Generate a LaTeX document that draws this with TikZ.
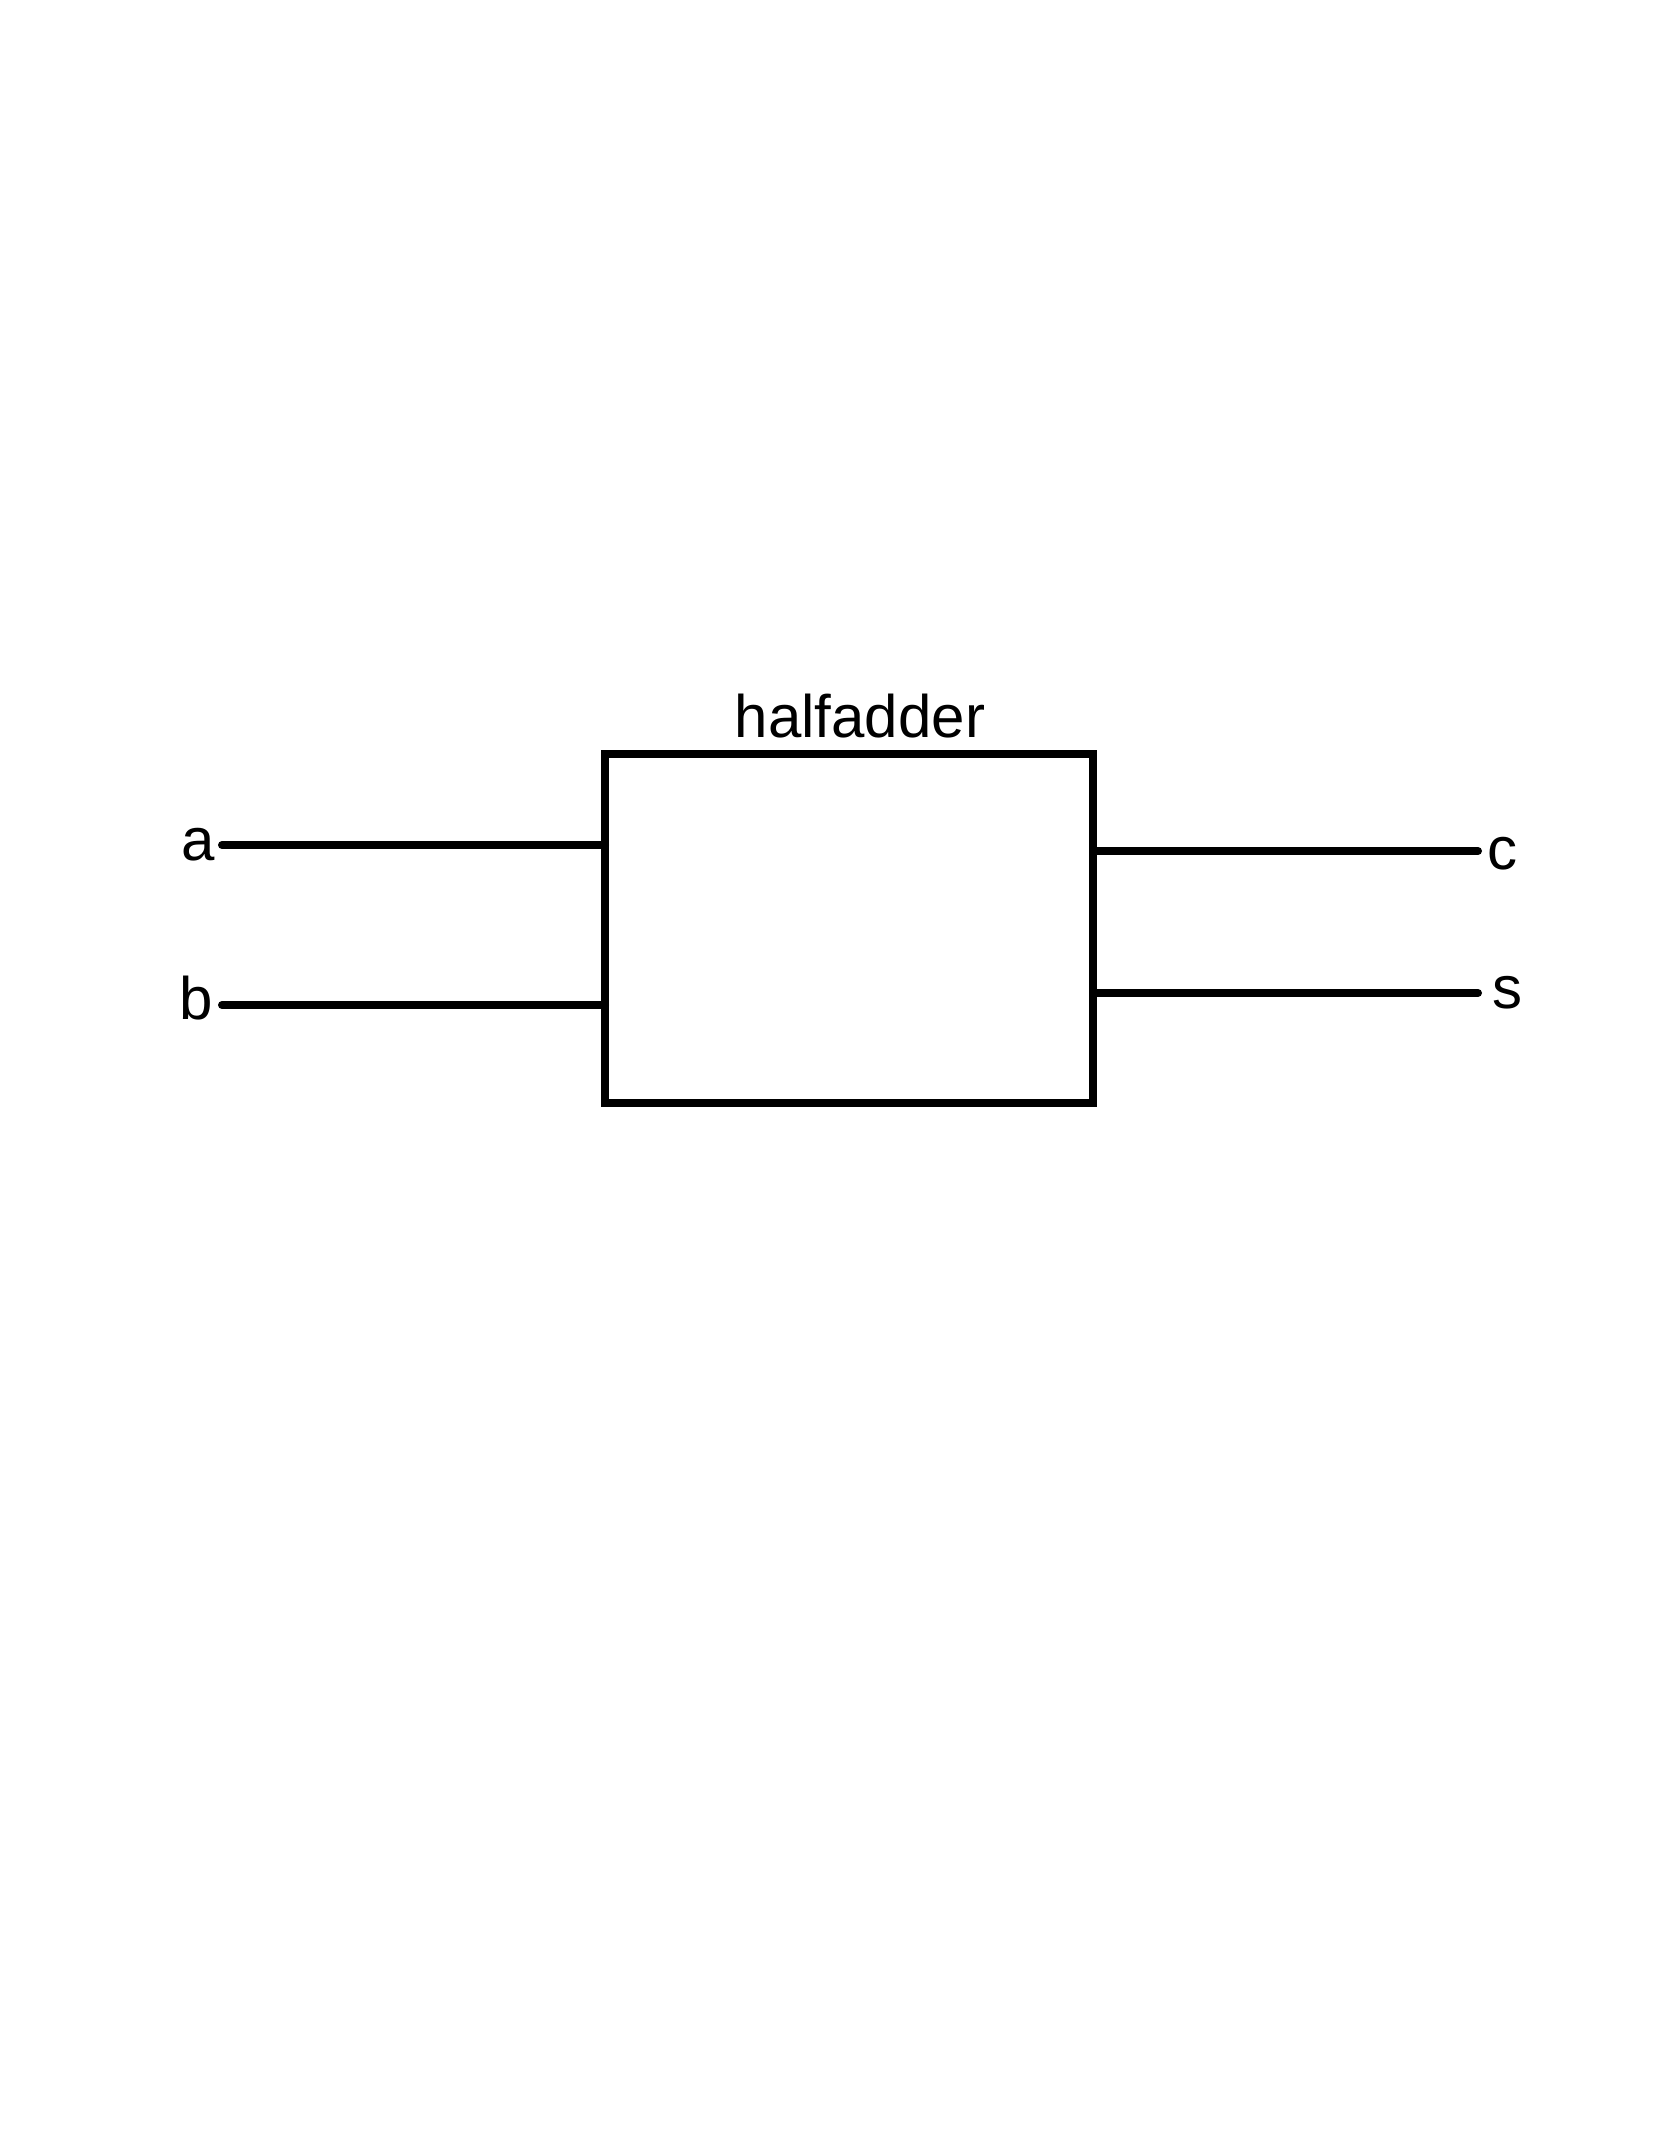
\documentclass[tikz,border=0pt]{standalone}
\usepackage{fontspec}
\setmainfont{Liberation Sans}
\usepackage{tikz}
\usetikzlibrary{positioning, calc}
\tikzset{
	blk/.style    ={rectangle, draw=black, line width=4pt, minimum width=244pt, minimum height=174.5pt, inner sep=0pt, outer sep=0pt},
	sig/.style    ={line width=4pt, line cap=round},
	pinlbl/.style ={font=\fontsize{30}{36}\selectfont, inner sep=0pt},
}
\begin{document}
\begin{tikzpicture}[x=0.5pt, y=-0.5pt]
	\useasboundingbox (0,0) rectangle (1668,2154);
	% half adder block
	\node[blk] (hadd) at (849,928.5) {};
	\node[pinlbl] (ttl) at (860,716) {halfadder};
	% inputs
	\coordinate (ina) at (222,845);
	\coordinate (inb) at (222,1005);
	\node[pinlbl] (la) at (198,845) {a};
	\node[pinlbl] (lb) at (196,998) {b};
	\draw[sig] (ina) -- (ina -| hadd.west);
	\draw[sig] (inb) -- (inb -| hadd.west);
	% outputs
	\coordinate (outc) at (1478,851);
	\coordinate (outs) at (1478,993);
	\node[pinlbl] (lc) at (1502,854) {c};
	\node[pinlbl] (ls) at (1507,993) {s};
	\draw[sig] (outc -| hadd.east) -- (outc);
	\draw[sig] (outs -| hadd.east) -- (outs);
\end{tikzpicture}
\end{document}
